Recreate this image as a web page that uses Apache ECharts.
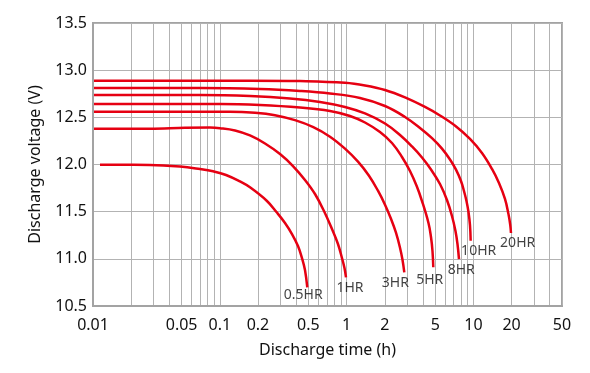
<!DOCTYPE html>
<html>
<head>
<meta charset="utf-8">
<script src="https://cdn.jsdelivr.net/npm/echarts@6/dist/echarts.min.js"></script>
<style>
html,body{margin:0;padding:0;background:#fff;}
#c{width:590px;height:373px;}
</style>
</head>
<body>
<div id="c"></div>
<script>
// ---- data: [time (h), voltage (V)] ----
const hr05 = [[0.011355,11.998],[0.02815,11.996],[0.04855,11.979],[0.0698,11.952],[0.08838,11.928],[0.11194,11.889],[0.1443,11.820],[0.1730,11.758],[0.2344,11.616],[0.2810,11.493],[0.3268,11.380],[0.3710,11.263],[0.4137,11.136],[0.4449,11.008],[0.4698,10.881],[0.4898,10.698]];
const hr1 = [[0.010183,12.380],[0.02815,12.380],[0.05317,12.389],[0.0837,12.391],[0.1004,12.385],[0.1318,12.361],[0.1730,12.308],[0.2273,12.223],[0.2985,12.111],[0.3778,11.984],[0.4698,11.836],[0.5635,11.687],[0.6633,11.507],[0.7670,11.316],[0.8553,11.157],[0.9198,11.008],[0.9626,10.902],[0.9892,10.804]];
const hr3 = [[0.010183,12.560],[0.12034,12.560],[0.1895,12.549],[0.2725,12.523],[0.3918,12.470],[0.5463,12.396],[0.7398,12.295],[0.9713,12.168],[1.230,12.030],[1.502,11.881],[1.768,11.722],[2.009,11.574],[2.239,11.425],[2.452,11.277],[2.638,11.118],[2.760,10.990],[2.852,10.856]];
const hr5 = [[0.010183,12.642],[0.1004,12.642],[0.2075,12.631],[0.4290,12.604],[0.7398,12.567],[1.0637,12.514],[1.397,12.445],[1.834,12.344],[2.280,12.228],[2.735,12.080],[3.162,11.931],[3.571,11.772],[3.933,11.613],[4.425,11.380],[4.631,11.231],[4.759,11.083],[4.829,10.910]];
const hr8 = [[0.010183,12.737],[0.0698,12.737],[0.1730,12.726],[0.3578,12.700],[0.6170,12.663],[0.9713,12.610],[1.397,12.541],[2.009,12.435],[2.638,12.313],[3.280,12.191],[3.933,12.074],[4.631,11.947],[5.453,11.793],[6.191,11.623],[6.780,11.454],[7.225,11.295],[7.493,11.157],[7.699,10.998]];
const hr10 = [[0.010183,12.811],[0.0698,12.811],[0.2075,12.801],[0.4290,12.780],[0.7398,12.753],[1.2756,12.705],[2.009,12.620],[2.888,12.504],[3.792,12.387],[4.716,12.279],[5.655,12.168],[6.539,12.053],[7.292,11.945],[7.984,11.825],[8.431,11.719],[8.823,11.613],[9.149,11.496],[9.402,11.358],[9.521,11.192]];
const hr20 = [[0.010183,12.889],[0.1730,12.889],[0.4290,12.884],[0.9713,12.866],[1.397,12.838],[2.009,12.790],[2.888,12.711],[4.153,12.610],[5.453,12.520],[7.225,12.408],[9.402,12.271],[11.689,12.122],[14.02,11.953],[15.92,11.804],[17.75,11.635],[18.91,11.475],[19.54,11.359],[19.79,11.274]];

const seriesNames = ['0.5HR','1HR','3HR','5HR','8HR','10HR','20HR'];
const seriesData = [hr05, hr1, hr3, hr5, hr8, hr10, hr20];

// axis ticks
const xGridValues = [0.01,0.02,0.03,0.04,0.05,0.06,0.07,0.08,0.09,0.1,0.2,0.3,0.4,0.5,0.6,0.7,0.8,0.9,1,2,3,4,5,6,7,8,9,10,20,30,40,50];
const xTickLabels = [0.01,0.05,0.1,0.2,0.5,1,2,5,10,20,50];
const yMin = 10.5, yMax = 13.5, yStep = 0.5;

// label offsets (style, pixels)
const labelOffsets = [[-4,8],[4,11],[-9,10.7],[-3.6,12.2],[2.3,11.3],[8,10.6],[6.7,9.8]];

const RED = '#e60012';
const FONT = '"Noto Sans", "Open Sans", sans-serif';

const series = seriesData.map((d, i) => ({
  name: seriesNames[i],
  type: 'line',
  data: d,
  smooth: 0.4,
  showSymbol: false,
  symbol: 'none',
  silent: true,
  animation: false,
  lineStyle: { color: RED, width: 2.5, cap: 'butt' },
  z: 3
}));

series.push({
  type: 'scatter',
  symbolSize: 0,
  silent: true,
  animation: false,
  data: seriesData.map((d, i) => ({
    value: d[d.length - 1],
    name: seriesNames[i],
    label: { offset: labelOffsets[i] }
  })),
  label: {
    show: true,
    position: 'inside',
    align: 'center',
    verticalAlign: 'middle',
    formatter: p => p.name,
    fontSize: 14,
    fontFamily: FONT,
    color: '#111'
  },
  z: 4
});

const chart = echarts.init(document.getElementById('c'), null, { renderer: 'canvas' });
chart.setOption({
  animation: false,
  backgroundColor: '#fff',
  grid: {
    left: 93, right: 28, top: 23, bottom: 67,
    show: true, borderColor: '#a3a3a3', borderWidth: 2, backgroundColor: 'transparent'
  },
  xAxis: {
    type: 'log',
    logBase: 10,
    min: 0.01,
    max: 50,
    name: 'Discharge time (h)',
    nameLocation: 'middle',
    nameGap: 36,
    nameTextStyle: { fontSize: 16, fontFamily: FONT, color: '#111' },
    axisLine: { show: true, lineStyle: { color: '#a3a3a3', width: 2 } },
    axisTick: { show: false, customValues: xGridValues },
    axisLabel: {
      customValues: xTickLabels,
      formatter: v => String(+(+v).toPrecision(6)),
      fontSize: 16, fontFamily: FONT, color: '#111', margin: 11
    },
    splitLine: { show: true, lineStyle: { color: '#b3b3b3', width: 1 } },
    minorSplitLine: { show: false }
  },
  yAxis: {
    type: 'value',
    min: yMin,
    max: yMax,
    interval: yStep,
    name: 'Discharge voltage (V)',
    nameLocation: 'middle',
    nameGap: 50,
    nameTextStyle: { fontSize: 16, fontFamily: FONT, color: '#111' },
    axisLine: { show: true, lineStyle: { color: '#a3a3a3', width: 2 } },
    axisTick: { show: false },
    axisLabel: {
      formatter: v => (+v).toFixed(1),
      fontSize: 16, fontFamily: FONT, color: '#111', margin: 6
    },
    splitLine: { show: true, lineStyle: { color: '#b3b3b3', width: 1 } }
  },
  series: series
});
</script>
</body>
</html>
